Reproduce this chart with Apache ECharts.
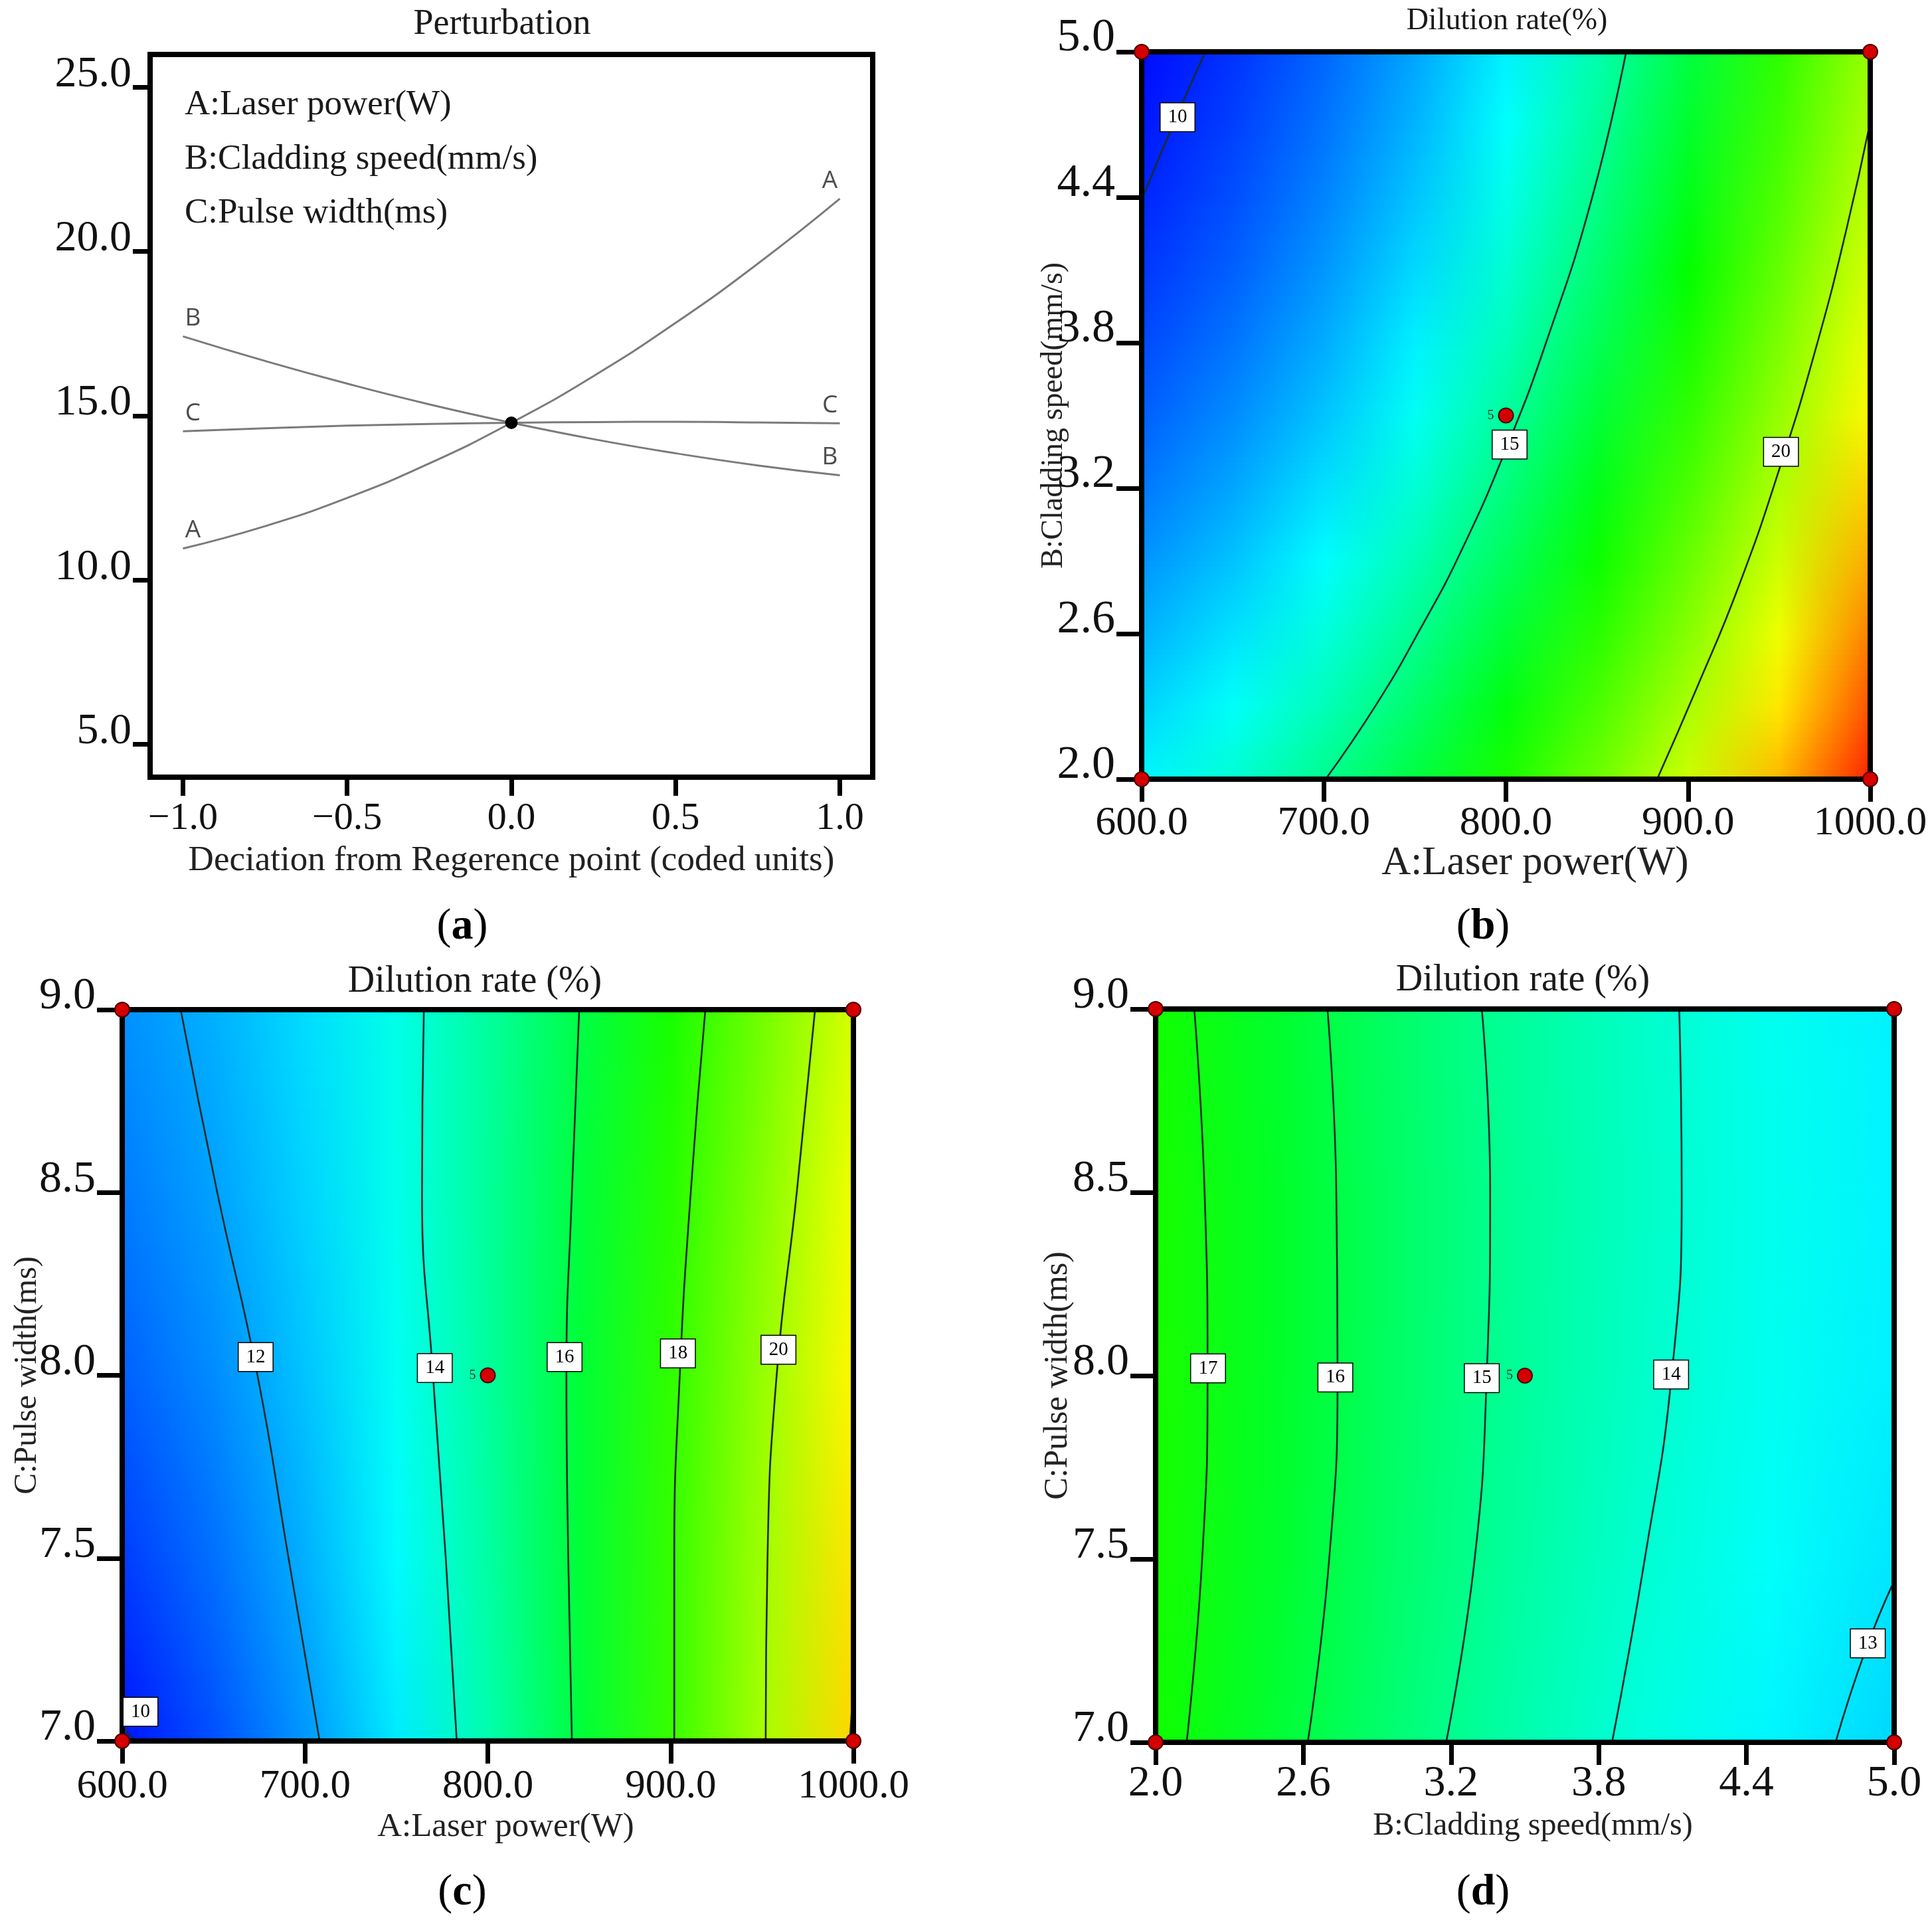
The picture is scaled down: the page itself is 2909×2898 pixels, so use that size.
<!DOCTYPE html>
<html>
<head>
<meta charset="utf-8">
<title>Dilution rate - perturbation and contour plots</title>
<script src="https://cdn.jsdelivr.net/npm/echarts@6/dist/echarts.min.js"></script>
<style>
  html, body { margin: 0; padding: 0; background: #fff; }
  #chart { width: 2909px; height: 2898px; }
</style>
</head>
<body>
<div id="chart"></div>
<script>
// ===== Data: (a) perturbation =====
const deviation = [-1, -0.75, -0.5, -0.25, 0, 0.25, 0.5, 0.75, 1];
const curveA = [10.96, 11.64, 12.50, 13.55, 14.79, 16.21, 17.83, 19.63, 21.61];
const curveB = [17.42, 16.67, 15.98, 15.35, 14.79, 14.29, 13.86, 13.49, 13.19];
const curveC = [14.53, 14.62, 14.70, 14.75, 14.79, 14.81, 14.82, 14.80, 14.77];
const referencePoint = [0, 14.79];
const factorNotes = ['A:Laser power(W)', 'B:Cladding speed(mm/s)', 'C:Pulse width(ms)'];

// ===== Data: tick values and labels =====
const devTicks = [-1, -0.5, 0, 0.5, 1];
const devLabels = ['\u22121.0', '\u22120.5', '0.0', '0.5', '1.0'];
const responseTicks = [5, 10, 15, 20, 25];
const responseLabels = ['5.0', '10.0', '15.0', '20.0', '25.0'];
const powerTicks = [600, 700, 800, 900, 1000];
const powerLabels = ['600.0', '700.0', '800.0', '900.0', '1000.0'];
const speedTicks = [2.0, 2.6, 3.2, 3.8, 4.4, 5.0];
const speedLabels = ['2.0', '2.6', '3.2', '3.8', '4.4', '5.0'];
const widthTicks = [7.0, 7.5, 8.0, 8.5, 9.0];
const widthLabels = ['7.0', '7.5', '8.0', '8.5', '9.0'];

// ===== Data: (b) dilution rate over laser power x cladding speed =====
const powerCols = [600, 650, 700, 750, 800, 850, 900, 950, 1000];
const speedRows = [2.0, 2.3, 2.6, 2.9, 3.2, 3.5, 3.8, 4.1, 4.4, 4.7, 5.0];
const dilutionAB = [
  [13.29, 14.04, 14.98, 16.11, 17.42, 18.92, 20.61, 22.48, 24.54],
  [12.74, 13.48, 14.40, 15.51, 16.81, 18.30, 19.97, 21.83, 23.87],
  [12.23, 12.96, 13.87, 14.96, 16.24, 17.71, 19.37, 21.21, 23.24],
  [11.77, 12.48, 13.37, 14.45, 15.72, 17.17, 18.82, 20.64, 22.66],
  [11.34, 12.04, 12.92, 13.98, 15.23, 16.67, 18.30, 20.11, 22.11],
  [10.96, 11.64, 12.50, 13.55, 14.79, 16.21, 17.83, 19.63, 21.61],
  [10.62, 11.28, 12.13, 13.17, 14.39, 15.80, 17.40, 19.18, 21.15],
  [10.32, 10.96, 11.80, 12.82, 14.03, 15.42, 17.00, 18.77, 20.73],
  [10.06, 10.69, 11.51, 12.51, 13.71, 15.09, 16.65, 18.41, 20.35],
  [9.84, 10.46, 11.26, 12.25, 13.43, 14.79, 16.35, 18.08, 20.01],
  [9.66, 10.26, 11.05, 12.03, 13.19, 14.54, 16.08, 17.80, 19.71]
];
const contourB10 = [[600, 4.39], [619, 4.73], [635, 5.0]];
const contourB15 = [[701, 2.0], [729, 2.31], [753, 2.62], [776, 2.95], [801, 3.38], [822, 3.8], [847, 4.39], [866, 5.0]];
const contourB20 = [[883, 2.0], [905, 2.38], [928, 2.8], [951, 3.3], [971, 3.8], [987, 4.27], [1000, 4.71]];
const levelTagsB = [[619.7, 4.73, 10], [802, 3.38, 15], [951, 3.35, 20]];
const designB = [[600, 2.0, 1], [600, 5.0, 1], [1000, 2.0, 1], [1000, 5.0, 1], [800, 3.5, 5]];

// ===== Data: (c) dilution rate over laser power x pulse width =====
const widthRows = [7.0, 7.5, 8.0, 8.5, 9.0];
const dilutionAC = [
  [9.78, 10.71, 11.81, 13.08, 14.53, 16.15, 17.95, 19.92, 22.06],
  [10.41, 11.21, 12.19, 13.35, 14.70, 16.22, 17.92, 19.80, 21.87],
  [10.96, 11.64, 12.50, 13.55, 14.79, 16.21, 17.83, 19.63, 21.61],
  [11.38, 11.96, 12.73, 13.68, 14.82, 16.14, 17.65, 19.34, 21.22],
  [11.71, 12.20, 12.87, 13.73, 14.77, 15.99, 17.40, 18.99, 20.77]
];
const contourC10 = [[600, 7.04], [607, 7.0]];
const contourC12 = [[708, 7.0], [691, 7.5], [674, 8.0], [652, 8.5], [632, 9.0]];
const contourC14 = [[783, 7.0], [777, 7.5], [770, 8.0], [764, 8.5], [765, 9.0]];
const contourC16 = [[846, 7.0], [844, 7.5], [843, 8.0], [846, 8.5], [850, 9.0]];
const contourC18 = [[902, 7.0], [902, 7.5], [905, 8.0], [911, 8.5], [919, 9.0]];
const contourC20 = [[952, 7.0], [953, 7.5], [958, 8.0], [969, 8.5], [979, 9.0]];
const contourC22 = [[1000, 7.15], [998, 7.0]];
const levelTagsC = [[673, 8.05, 12], [771, 8.02, 14], [842, 8.05, 16], [904, 8.06, 18], [959, 8.07, 20], [610, 7.08, 10]];
const designC = [[600, 7.0, 1], [600, 9.0, 1], [1000, 7.0, 1], [1000, 9.0, 1], [800, 8.0, 5]];

// ===== Data: (d) dilution rate over cladding speed x pulse width =====
const speedCols = [2.0, 2.5, 3.0, 3.5, 4.0, 4.5, 5.0];
const dilutionBC = [
  [17.27, 16.25, 15.33, 14.53, 13.84, 13.26, 12.79],
  [17.39, 16.38, 15.48, 14.70, 14.03, 13.47, 13.03],
  [17.42, 16.43, 15.55, 14.79, 14.14, 13.61, 13.19],
  [17.40, 16.43, 15.56, 14.82, 14.18, 13.65, 13.24],
  [17.31, 16.36, 15.51, 14.77, 14.14, 13.62, 13.22]
];
const contourD17 = [[2.126, 7.0], [2.189, 7.5], [2.211, 8.0], [2.199, 8.5], [2.157, 9.0]];
const contourD16 = [[2.618, 7.0], [2.705, 7.5], [2.739, 8.0], [2.734, 8.5], [2.698, 9.0]];
const contourD15 = [[3.18, 7.0], [3.296, 7.5], [3.345, 8.0], [3.359, 8.5], [3.325, 9.0]];
const contourD14 = [[3.854, 7.0], [3.987, 7.5], [4.096, 8.0], [4.137, 8.5], [4.127, 9.0]];
const contourD13 = [[4.762, 7.0], [4.883, 7.25], [5.0, 7.44]];
const levelTagsD = [[2.213, 8.02, 17], [2.73, 7.995, 16], [3.325, 7.993, 15], [4.094, 8.003, 14], [4.893, 7.27, 13]];
const designD = [[2.0, 7.0, 1], [2.0, 9.0, 1], [5.0, 7.0, 1], [5.0, 9.0, 1], [3.5, 8.0, 5]];

// ===== Style =====
const SERIF = 'Liberation Serif';
const SANS = 'Open Sans';

// colour ramp shared by the three contour plots: [response value, rgb]
const RAMP = [
  [9.5, [0, 0, 255]],
  [13.4, [0, 255, 255]],
  [17, [0, 255, 0]],
  [21.5, [255, 255, 0]],
  [25, [255, 0, 0]]
];

/**
 * Response value -> rgb triple on the ramp
 */
function rampRgb(v) {
  if (v <= RAMP[0][0]) return RAMP[0][1];
  for (let i = 1; i < RAMP.length; i++) {
    if (v <= RAMP[i][0]) {
      const a = RAMP[i - 1];
      const b = RAMP[i];
      const f = (v - a[0]) / (b[0] - a[0]);
      return a[1].map(function (ch, k) { return ch + (b[1][k] - ch) * f; });
    }
  }
  return RAMP[RAMP.length - 1][1];
}

function mixCss(c0, c1, s) {
  const c = c0.map(function (ch, k) { return Math.round(ch + (c1[k] - ch) * s); });
  return 'rgb(' + c.join(',') + ')';
}

/**
 * Tick label lookup
 */
function tickFormatter(ticks, labels) {
  return function (v) {
    for (let i = 0; i < ticks.length; i++) {
      if (Math.abs(ticks[i] - v) < 1e-6) return labels[i];
    }
    return '';
  };
}

// ===== Layout (pixels) =====
const grids = [
  { left: 226, top: 82, width: 1088, height: 1088 },
  { left: 1719, top: 78, width: 1097, height: 1095 },
  { left: 184, top: 1520, width: 1101, height: 1101 },
  { left: 1740, top: 1519, width: 1112, height: 1104 }
];

function makeGrid(g) {
  return {
    left: g.left, top: g.top, width: g.width, height: g.height,
    show: true, z: 3, borderColor: '#000', borderWidth: 8, backgroundColor: 'transparent'
  };
}

function xAxisOf(k, o) {
  return {
    type: 'value', gridIndex: k, position: 'bottom', min: o.min, max: o.max,
    name: o.name, nameLocation: 'middle', nameGap: o.nameGap, nameMoveOverlap: false,
    nameTextStyle: { fontFamily: SERIF, fontSize: o.nameSize, color: '#222', padding: [0, 0, 0, o.shift || 0] },
    axisLine: { show: false, onZero: false },
    splitLine: { show: false },
    axisTick: { show: true, inside: false, length: o.tickLen, customValues: o.ticks, lineStyle: { color: '#000', width: 7 } },
    axisLabel: {
      customValues: o.ticks, formatter: tickFormatter(o.ticks, o.labels), margin: o.margin,
      fontFamily: SERIF, fontSize: o.fontSize, color: '#111'
    }
  };
}

function yAxisOf(k, o) {
  return {
    type: 'value', gridIndex: k, position: 'left', min: o.min, max: o.max,
    name: o.name, nameLocation: 'middle', nameGap: o.nameGap, nameMoveOverlap: false,
    nameTextStyle: { fontFamily: SERIF, fontSize: o.nameSize || 14, color: '#222' },
    axisLine: { show: false, onZero: false },
    splitLine: { show: false },
    axisTick: { show: true, inside: false, length: o.tickLen, customValues: o.ticks, lineStyle: { color: '#000', width: 7 } },
    axisLabel: {
      customValues: o.ticks, formatter: tickFormatter(o.ticks, o.labels), margin: o.tickLen + 2,
      fontFamily: SERIF, fontSize: o.fontSize, lineHeight: Math.round(o.fontSize * 0.58),
      verticalAlign: 'bottom', color: '#111'
    }
  };
}

// ===== Series builders =====

/**
 * Response surface: every band between two read rows is shaded with thin
 * horizontal-gradient strips, blending the colours of the two rows.
 */
function surfaceSeries(k, xs, ys, table, steps) {
  const last = xs.length - 1;
  const bands = [];
  for (let j = 0; j < ys.length - 1; j++) bands.push([xs[0], ys[j], j]);
  return {
    type: 'custom', xAxisIndex: k, yAxisIndex: k, silent: true, z: 1, clip: true,
    data: bands,
    renderItem: function (params, api) {
      const j = api.value(2);
      const lowRgb = table[j].map(rampRgb);
      const highRgb = table[j + 1].map(rampRgb);
      const children = [];
      for (let s = 0; s < steps; s++) {
        const yA = ys[j] + (ys[j + 1] - ys[j]) * s / steps;
        const yB = ys[j] + (ys[j + 1] - ys[j]) * (s + 1) / steps;
        const p0 = api.coord([xs[0], yB]);
        const p1 = api.coord([xs[last], yA]);
        const f = (s + 0.5) / steps;
        const stops = xs.map(function (x, i) {
          return { offset: (x - xs[0]) / (xs[last] - xs[0]), color: mixCss(lowRgb[i], highRgb[i], f) };
        });
        children.push({
          type: 'rect',
          shape: { x: p0[0], y: p0[1] - 0.6, width: p1[0] - p0[0], height: p1[1] - p0[1] + 1.2 },
          style: { fill: new echarts.graphic.LinearGradient(0, 0, 1, 0, stops) }
        });
      }
      return { type: 'group', children: children };
    }
  };
}

function contourSeries(k, pts) {
  return {
    type: 'line', xAxisIndex: k, yAxisIndex: k, data: pts, smooth: true,
    symbol: 'none', silent: true, clip: true, z: 2,
    lineStyle: { color: '#1d2b2b', width: 2.6 }
  };
}

function levelTagSeries(k, tags) {
  return {
    type: 'scatter', xAxisIndex: k, yAxisIndex: k, data: tags, symbolSize: 1,
    itemStyle: { color: 'rgba(0,0,0,0)', opacity: 1 }, silent: true, clip: false, z: 5,
    label: {
      show: true, position: 'inside',
      formatter: function (p) { return String(p.value[2]); },
      fontFamily: SERIF, fontSize: 29, color: '#000',
      backgroundColor: '#fff', borderColor: '#000', borderWidth: 1.5, padding: [8, 11, 5, 11]
    }
  };
}

function designSeries(k, pts) {
  return {
    type: 'scatter', xAxisIndex: k, yAxisIndex: k, data: pts, symbolSize: 22,
    silent: true, clip: false, z: 6,
    itemStyle: { color: '#d40000', borderColor: '#4a0000', borderWidth: 2, opacity: 1 },
    label: {
      show: true, position: 'left', distance: 6,
      formatter: function (p) { return p.value[2] > 1 ? String(p.value[2]) : ''; },
      fontFamily: SERIF, fontSize: 20, color: '#1c2c1c'
    }
  };
}

function curveSeries(values) {
  return {
    type: 'line', xAxisIndex: 0, yAxisIndex: 0, smooth: true, symbol: 'none', silent: true, z: 3,
    data: deviation.map(function (x, i) { return [x, values[i]]; }),
    lineStyle: { color: '#7b7b7b', width: 3 }
  };
}

const curves = [['A', curveA], ['B', curveB], ['C', curveC]];
const curveTags = [];
curves.forEach(function (c) {
  curveTags.push({ value: [deviation[0], c[1][0], c[0]], label: { offset: [15, 0] } });
  curveTags.push({ value: [deviation[deviation.length - 1], c[1][c[1].length - 1], c[0]], label: { offset: [-15, 0] } });
});

// ===== Chart =====
const chart = echarts.init(document.getElementById('chart'), null, { renderer: 'canvas' });

function panelLetter(x, y, letter) {
  return {
    type: 'text', x: x, y: y, z: 10,
    style: {
      text: '{p|(}{b|' + letter + '}{p|)}', align: 'center', verticalAlign: 'middle',
      textAlign: 'center', textVerticalAlign: 'middle',
      rich: {
        p: { fontFamily: SERIF, fontSize: 66, fill: '#000', color: '#000' },
        b: { fontFamily: SERIF, fontSize: 66, fontWeight: 'bold', fill: '#000', color: '#000' }
      }
    }
  };
}

function plainText(x, y, text, size, align) {
  return {
    type: 'text', x: x, y: y, z: 10,
    style: {
      text: text, fontFamily: SERIF, fontSize: size, fill: '#1a1a1a',
      align: align, verticalAlign: 'middle', textAlign: align, textVerticalAlign: 'middle'
    }
  };
}

chart.setOption({
  animation: false,
  backgroundColor: '#fff',
  textStyle: { fontFamily: SERIF },
  grid: grids.map(makeGrid),
  xAxis: [
    xAxisOf(0, { min: -1.1, max: 1.1, ticks: devTicks, labels: devLabels, fontSize: 58, margin: 34, tickLen: 28,
      name: 'Deciation from Regerence point (coded units)', nameGap: 100, nameSize: 53 }),
    xAxisOf(1, { min: 600, max: 1000, ticks: powerTicks, labels: powerLabels, fontSize: 62, margin: 36, tickLen: 34,
      name: 'A:Laser power(W)', nameGap: 96, nameSize: 61, shift: 88 }),
    xAxisOf(2, { min: 600, max: 1000, ticks: powerTicks, labels: powerLabels, fontSize: 61, margin: 38, tickLen: 34,
      name: 'A:Laser power(W)', nameGap: 104, nameSize: 51, shift: 54 }),
    xAxisOf(3, { min: 2.0, max: 5.0, ticks: speedTicks, labels: speedLabels, fontSize: 66, margin: 30, tickLen: 34,
      name: 'B:Cladding speed(mm/s)', nameGap: 102, nameSize: 48, shift: 24 })
  ],
  yAxis: [
    yAxisOf(0, { min: 4, max: 26, ticks: responseTicks, labels: responseLabels, fontSize: 66, tickLen: 26 }),
    yAxisOf(1, { min: 2.0, max: 5.0, ticks: speedTicks, labels: speedLabels, fontSize: 70, tickLen: 38,
      name: 'B:Cladding speed(mm/s)', nameGap: 109, nameSize: 46 }),
    yAxisOf(2, { min: 7.0, max: 9.0, ticks: widthTicks, labels: widthLabels, fontSize: 68, tickLen: 38,
      name: 'C:Pulse width(ms)', nameGap: 119, nameSize: 48 }),
    yAxisOf(3, { min: 7.0, max: 9.0, ticks: widthTicks, labels: widthLabels, fontSize: 68, tickLen: 38,
      name: 'C:Pulse width(ms)', nameGap: 122, nameSize: 50 })
  ],
  graphic: [
    plainText(756, 37, 'Perturbation', 54, 'center'),
    plainText(2269, 32, 'Dilution rate(%)', 46, 'center'),
    plainText(715, 1478, 'Dilution rate (%)', 56, 'center'),
    plainText(2293, 1476, 'Dilution rate (%)', 56, 'center'),
    plainText(278, 158, factorNotes[0], 53, 'left'),
    plainText(278, 240, factorNotes[1], 53, 'left'),
    plainText(278, 321, factorNotes[2], 53, 'left'),
    panelLetter(696, 1396, 'a'),
    panelLetter(2233, 1396, 'b'),
    panelLetter(696, 2850, 'c'),
    panelLetter(2233, 2850, 'd')
  ],
  series: [
    // (a) perturbation curves
    curveSeries(curveA),
    curveSeries(curveB),
    curveSeries(curveC),
    {
      type: 'scatter', xAxisIndex: 0, yAxisIndex: 0, data: curveTags, symbolSize: 1, silent: true, z: 4,
      itemStyle: { color: 'rgba(0,0,0,0)', opacity: 1 },
      label: {
        show: true, position: 'top', distance: 8,
        formatter: function (p) { return p.value[2]; },
        fontFamily: SANS, fontSize: 37, color: '#4d4d4d'
      }
    },
    {
      type: 'scatter', xAxisIndex: 0, yAxisIndex: 0, data: [referencePoint], symbolSize: 19, silent: true, z: 5,
      itemStyle: { color: '#000', opacity: 1 }
    },

    // (b)
    surfaceSeries(1, powerCols, speedRows, dilutionAB, 14),
    contourSeries(1, contourB10),
    contourSeries(1, contourB15),
    contourSeries(1, contourB20),
    levelTagSeries(1, levelTagsB),
    designSeries(1, designB),

    // (c)
    surfaceSeries(2, powerCols, widthRows, dilutionAC, 28),
    contourSeries(2, contourC10),
    contourSeries(2, contourC12),
    contourSeries(2, contourC14),
    contourSeries(2, contourC16),
    contourSeries(2, contourC18),
    contourSeries(2, contourC20),
    contourSeries(2, contourC22),
    levelTagSeries(2, levelTagsC),
    designSeries(2, designC),

    // (d)
    surfaceSeries(3, speedCols, widthRows, dilutionBC, 28),
    contourSeries(3, contourD17),
    contourSeries(3, contourD16),
    contourSeries(3, contourD15),
    contourSeries(3, contourD14),
    contourSeries(3, contourD13),
    levelTagSeries(3, levelTagsD),
    designSeries(3, designD)
  ]
});
</script>
</body>
</html>
